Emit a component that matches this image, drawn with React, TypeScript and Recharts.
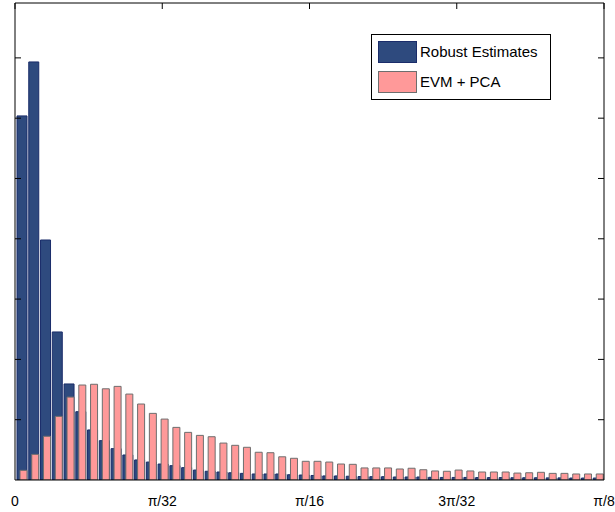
import React from 'react';
import { BarChart, Bar, XAxis, YAxis, Legend } from 'recharts';

// 50 histogram bins over [0, pi/8]
const ROBUST = [
  0.2415, 0.2773, 0.1592, 0.0982, 0.0637, 0.0453, 0.0332, 0.0261, 0.0208, 0.0166,
  0.0133, 0.0119, 0.0106, 0.0095, 0.0082, 0.0066, 0.0058, 0.0053, 0.0048, 0.0044,
  0.0040, 0.0040, 0.0040, 0.0035, 0.0033, 0.0030, 0.0027, 0.0027, 0.0025, 0.0023,
  0.0022, 0.0022, 0.0020, 0.0020, 0.0020, 0.0018, 0.0017, 0.0017, 0.0017, 0.0016,
  0.0016, 0.0016, 0.0015, 0.0015, 0.0015, 0.0014, 0.0014, 0.0013, 0.0013, 0.0013,
];
const EVM_PCA = [
  0.0064, 0.0170, 0.0290, 0.0422, 0.0550, 0.0630, 0.0635, 0.0605, 0.0621, 0.0570,
  0.0504, 0.0442, 0.0404, 0.0349, 0.0316, 0.0296, 0.0287, 0.0245, 0.0230, 0.0217,
  0.0184, 0.0181, 0.0154, 0.0144, 0.0124, 0.0124, 0.0119, 0.0106, 0.0104, 0.0080,
  0.0080, 0.0080, 0.0073, 0.0078, 0.0068, 0.0060, 0.0058, 0.0066, 0.0060, 0.0053,
  0.0053, 0.0053, 0.0046, 0.0048, 0.0051, 0.0044, 0.0044, 0.0040, 0.0040, 0.0040,
];
const SERIES_NAMES = ['Robust Estimates', 'EVM + PCA'];
const SERIES_FILL = ['#2E4A7E', '#FF9999'];
const SERIES_STROKE = ['#1A2C6A', '#6E6E6E'];
const XTICK_POS = [0, 12.5, 25, 37.5, 50];
const XTICK_LABELS = ['0', '\u03c0/32', '\u03c0/16', '3\u03c0/32', '\u03c0/8'];
const YTICKS = [0.04, 0.08, 0.12, 0.16, 0.2, 0.24, 0.28];
const Y_MAX = 0.3164;

const data = ROBUST.map((r, i) => ({ bin: i, pos: i + 0.5, robust: r, evm: EVM_PCA[i] }));

const FONT = '"Liberation Sans", Arial, Helvetica, sans-serif';

const BottomTick = (props: any) => {
  const { x, y, payload } = props;
  const idx = XTICK_POS.indexOf(payload.value);
  return (
    <text x={x} y={y + 26} textAnchor="middle" fontSize={14} fontFamily={FONT} fill="#000">
      {XTICK_LABELS[idx]}
    </text>
  );
};
const TopTick = (props: any) => {
  const { x, y } = props;
  return <line x1={x} y1={y} x2={x} y2={y + 6} stroke="#000" strokeWidth={1} />;
};
const LeftTick = (props: any) => {
  const { x, y } = props;
  return <line x1={x} y1={y} x2={x + 6} y2={y} stroke="#000" strokeWidth={1} />;
};
const RightTick = (props: any) => {
  const { x, y } = props;
  return <line x1={x} y1={y} x2={x - 6} y2={y} stroke="#000" strokeWidth={1} />;
};

const LegendBox = () => (
  <svg width={181} height={67} style={{ display: 'block' }}>
    <rect x={0.5} y={0.5} width={179} height={65} fill="#fff" stroke="#000" strokeWidth={1} />
    {SERIES_NAMES.map((name, i) => (
      <g key={name}>
        <rect
          x={7.5}
          y={7.5 + i * 30}
          width={38}
          height={21}
          fill={SERIES_FILL[i]}
          stroke={SERIES_STROKE[i]}
          strokeWidth={1}
        />
        <text x={49} y={23.3 + i * 29.4} fontSize={15} fontFamily={FONT} fill="#000">
          {name}
        </text>
      </g>
    ))}
  </svg>
);

export default function App() {
  return (
    <div style={{ position: 'absolute', left: 0, top: 0 }}>
      <BarChart
        width={615}
        height={512}
        data={data}
        margin={{ top: 2, right: 10, bottom: 31, left: 14 }}
        barGap={-7}
      >
        <XAxis
          xAxisId="num"
          dataKey="pos"
          type="number"
          domain={[0, 50]}
          ticks={XTICK_POS}
          allowDataOverflow
          height={1}
          tickSize={0}
          tickMargin={0}
          tickLine={false}
          axisLine={{ stroke: '#000' }}
          tick={<BottomTick />}
          interval={0}
        />
        <XAxis
          xAxisId="cat"
          dataKey="bin"
          type="category"
          hide
          height={0}
          padding={{ left: 1, right: 0 }}
        />
        <XAxis
          xAxisId="top"
          orientation="top"
          dataKey="pos"
          type="number"
          domain={[0, 50]}
          ticks={XTICK_POS}
          allowDataOverflow
          height={1}
          tickSize={0}
          tickMargin={0}
          tickLine={false}
          axisLine={{ stroke: '#000' }}
          tick={<TopTick />}
          interval={0}
        />
        <YAxis
          yAxisId="left"
          type="number"
          domain={[0, Y_MAX]}
          ticks={YTICKS}
          allowDataOverflow
          width={1}
          tickSize={0}
          tickMargin={0}
          tickLine={false}
          axisLine={{ stroke: '#000' }}
          tick={<LeftTick />}
          interval={0}
        />
        <YAxis
          yAxisId="right"
          orientation="right"
          type="number"
          domain={[0, Y_MAX]}
          ticks={YTICKS}
          allowDataOverflow
          width={1}
          tickSize={0}
          tickMargin={0}
          tickLine={false}
          axisLine={{ stroke: '#000' }}
          tick={<RightTick />}
          interval={0}
        />
        <Legend
          layout="horizontal"
          verticalAlign="middle"
          align="center"
          content={() => <LegendBox />}
          wrapperStyle={{ position: 'absolute', left: 371, top: 34, width: 181, height: 67 }}
        />
        <Bar
          xAxisId="cat"
          yAxisId="left"
          dataKey="robust"
          name={SERIES_NAMES[0]}
          fill={SERIES_FILL[0]}
          stroke={SERIES_STROKE[0]}
          strokeWidth={1}
          barSize={10}
          isAnimationActive={false}
        />
        <Bar
          xAxisId="cat"
          yAxisId="left"
          dataKey="evm"
          name={SERIES_NAMES[1]}
          fill={SERIES_FILL[1]}
          stroke={SERIES_STROKE[1]}
          strokeWidth={1}
          barSize={7}
          isAnimationActive={false}
        />
      </BarChart>
    </div>
  );
}
